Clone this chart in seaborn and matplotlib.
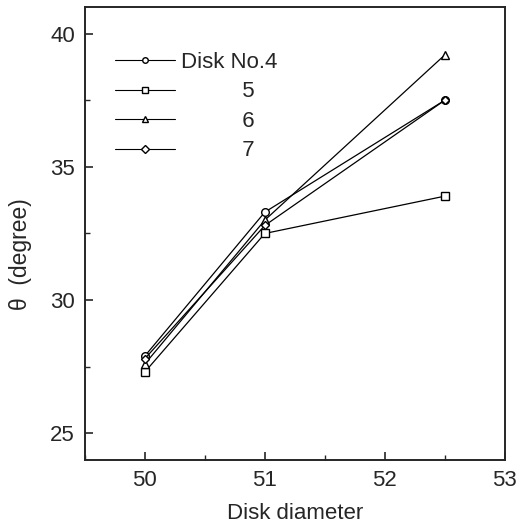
import matplotlib
matplotlib.use('Agg')
import matplotlib.pyplot as plt
import seaborn as sns
import pandas as pd
from matplotlib.ticker import MultipleLocator

diameters = [50, 51, 52.5]
disk4 = [27.9, 33.3, 37.5]
disk5 = [27.3, 32.5, 33.9]
disk6 = [27.6, 33.0, 39.2]
disk7 = [27.8, 32.8, 37.5]
labels = ['Disk No.4', '5', '6', '7']
markers = ['o', 's', '^', 'D']

sns.set_style('ticks')
plt.rcParams['font.family'] = ['Liberation Sans', 'DejaVu Sans']

fig = plt.figure(figsize=(5.2, 5.27), dpi=100)
ax = fig.add_axes([0.163, 0.127, 0.808, 0.86])

series = [disk4, disk5, disk6, disk7]
for vals, lab, mk in zip(series, labels, markers):
    df = pd.DataFrame({'d': diameters, 'theta': vals})
    ms = 4.5 if mk == 'D' else 5.5
    sns.lineplot(data=df, x='d', y='theta', ax=ax, color='black', linewidth=0.9,
                 marker=mk, markersize=ms, markerfacecolor='white',
                 markeredgecolor='black', markeredgewidth=1.0, label=lab)

ax.set_xlim(49.5, 53)
ax.set_ylim(24, 41)
ax.xaxis.set_major_locator(MultipleLocator(1))
ax.xaxis.set_minor_locator(MultipleLocator(0.5))
ax.yaxis.set_major_locator(MultipleLocator(5))
ax.yaxis.set_minor_locator(MultipleLocator(2.5))
ax.tick_params(which='major', direction='in', length=6, width=1.2, labelsize=16, pad=7)
ax.tick_params(which='minor', direction='in', length=3.5, width=1.0)
for s in ax.spines.values():
    s.set_linewidth(1.4)
    s.set_visible(True)

ax.set_xlabel('Disk diameter', fontsize=16, labelpad=9)
ax.set_ylabel('θ  (degree)', fontsize=16.5, labelpad=12)
ax.yaxis.set_label_coords(-0.125, 0.455)

leg = ax.legend(loc='upper left', frameon=False, fontsize=16, handlelength=2.7,
                labelspacing=0.38, borderaxespad=0.0, handletextpad=0.3,
                bbox_to_anchor=(0.05, 0.92))
for t in leg.get_texts()[1:]:
    t.set_text('          ' + t.get_text())
for h in leg.legend_handles:
    h.set_markersize(4)
    h.set_linewidth(0.8)

fig.savefig('out.png', dpi=100)
